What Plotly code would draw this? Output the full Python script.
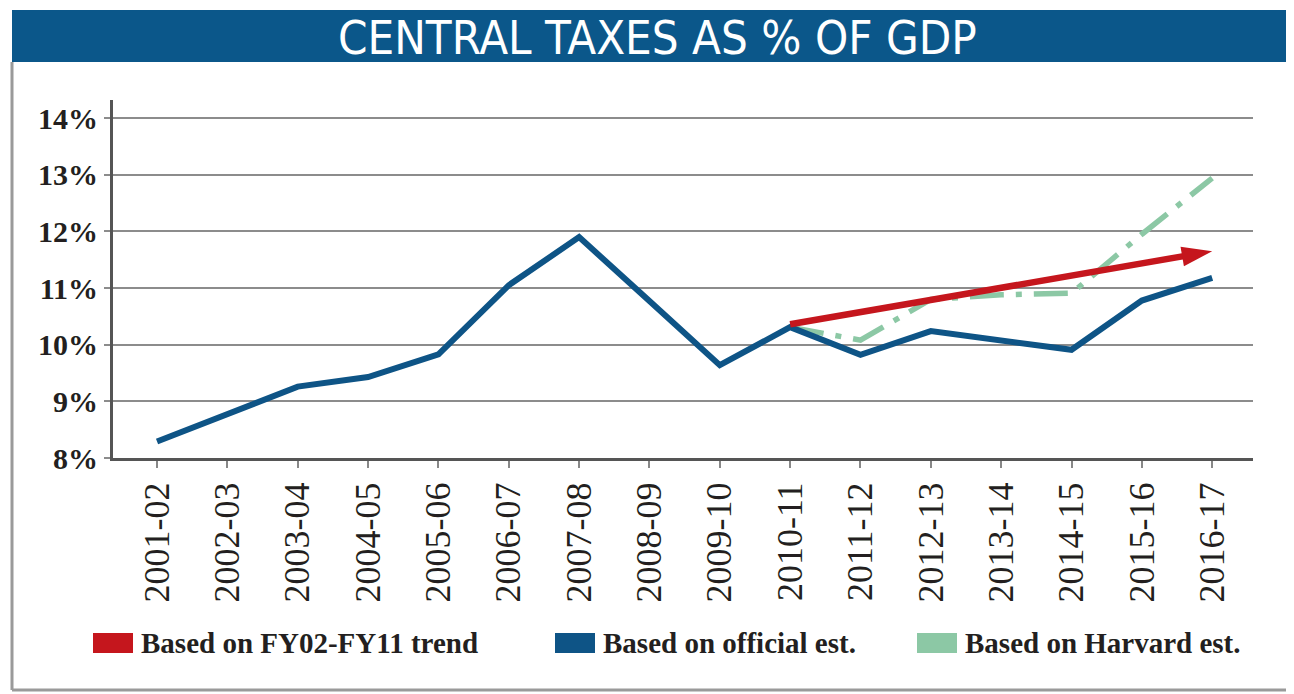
import plotly.graph_objects as go

# ---- data ----
years = ["2001-02", "2002-03", "2003-04", "2004-05", "2005-06", "2006-07", "2007-08",
         "2008-09", "2009-10", "2010-11", "2011-12", "2012-13", "2013-14", "2014-15",
         "2015-16", "2016-17"]
official = [8.29, 8.78, 9.26, 9.43, 9.83, 11.05, 11.9, 10.77, 9.64, 10.31,
            9.82, 10.24, 10.08, 9.91, 10.78, 11.18]
harvard_years = ["2010-11", "2011-12", "2012-13", "2013-14", "2014-15", "2015-16", "2016-17"]
harvard = [10.31, 10.08, 10.8, 10.88, 10.91, 11.95, 12.94]
trend_years = ["2010-11", "2016-17"]
trend = [10.36, 11.65]

series_names = ["Based on FY02-FY11 trend", "Based on official est.", "Based on Harvard est."]
series_colors = ["#C5161D", "#0E5486", "#8CC8A5"]
y_ticks = [8, 9, 10, 11, 12, 13, 14]
y_tick_labels = [f"{v}%" for v in y_ticks]
title_text = "CENTRAL TAXES AS % OF GDP"

# ---- layout geometry (screen pixels; page body has an 8px margin) ----
OFF = 8
W, H = 1294, 694
L, R, T, B = 113, 1253, 100, 458


def px(x):
    return (x - L) / (R - L)


def py(y):
    return (B - y) / (B - T)


fig = go.Figure()

fig.add_trace(go.Scatter(
    x=harvard_years, y=harvard, mode="lines", name=series_names[2],
    line=dict(color=series_colors[2], width=5.5, dash="34px,12px,6px,12px"),
    showlegend=False, hoverinfo="skip"))

fig.add_trace(go.Scatter(
    x=years, y=official, mode="lines", name=series_names[1],
    line=dict(color=series_colors[1], width=6),
    showlegend=False))

fig.add_trace(go.Scatter(
    x=trend_years, y=trend, mode="lines+markers", name=series_names[0],
    line=dict(color=series_colors[0], width=6.5),
    marker=dict(symbol=["circle", "arrow"], size=[0, 32], angleref="previous",
                color=series_colors[0], opacity=1, line=dict(width=0)),
    showlegend=False))

shapes = []
# title bar
shapes.append(dict(type="rect", xref="paper", yref="paper",
                   x0=px(12), x1=px(1310), y0=py(62), y1=py(10),
                   fillcolor="#0B578A", line=dict(width=0), layer="below"))
# frame
shapes.append(dict(type="line", xref="paper", yref="paper",
                   x0=px(12), x1=px(12), y0=py(62), y1=py(690),
                   line=dict(color="#9A9A9A", width=3)))
shapes.append(dict(type="line", xref="paper", yref="paper",
                   x0=px(12), x1=px(1310), y0=py(690), y1=py(690),
                   line=dict(color="#9A9A9A", width=3)))

annotations = [dict(text=title_text, xref="paper", yref="paper",
                    x=px(657), y=py(37), xanchor="center", yanchor="middle",
                    showarrow=False,
                    font=dict(family="Liberation Sans Narrow, DejaVu Sans Condensed, sans-serif",
                              size=47, color="white"))]

# manual legend
leg_x = [93, 555, 917]
for i, (name, col) in enumerate(zip(series_names, series_colors)):
    shapes.append(dict(type="rect", xref="paper", yref="paper",
                       x0=px(leg_x[i]), x1=px(leg_x[i] + 40), y0=py(653), y1=py(633),
                       fillcolor=col, line=dict(width=0)))
    annotations.append(dict(text=name, xref="paper", yref="paper",
                            x=px(leg_x[i] + 46), y=py(643), xanchor="left", yanchor="middle",
                            showarrow=False,
                            font=dict(family="Liberation Serif, serif", size=29,
                                      color="#231F20", weight="bold")))

fig.update_layout(
    width=W, height=H,
    margin=dict(l=L - OFF, r=W - R + OFF, t=T - OFF, b=H - B + OFF),
    paper_bgcolor="white", plot_bgcolor="white",
    showlegend=False,
    shapes=shapes, annotations=annotations,
    xaxis=dict(
        type="category", categoryorder="array", categoryarray=years,
        range=[-0.626, 15.58], tickangle=-90,
        showgrid=False, showline=True, linecolor="#555555", linewidth=3,
        ticks="outside", ticklen=7, tickwidth=2, tickcolor="#888888",
        tickfont=dict(family="Liberation Serif, serif", size=36, color="#231F20"),
        zeroline=False, fixedrange=True),
    yaxis=dict(
        range=[8, 14.32], tickvals=y_ticks, ticktext=y_tick_labels,
        showgrid=True, gridcolor="#8C8C8C", gridwidth=2,
        showline=True, linecolor="#555555", linewidth=3,
        ticks="outside", ticklen=6, tickwidth=2, tickcolor="#8C8C8C",
        tickfont=dict(family="Liberation Serif, serif", size=30, color="#231F20", weight="bold"),
        zeroline=False, fixedrange=True),
)

fig.write_html("out.html")
